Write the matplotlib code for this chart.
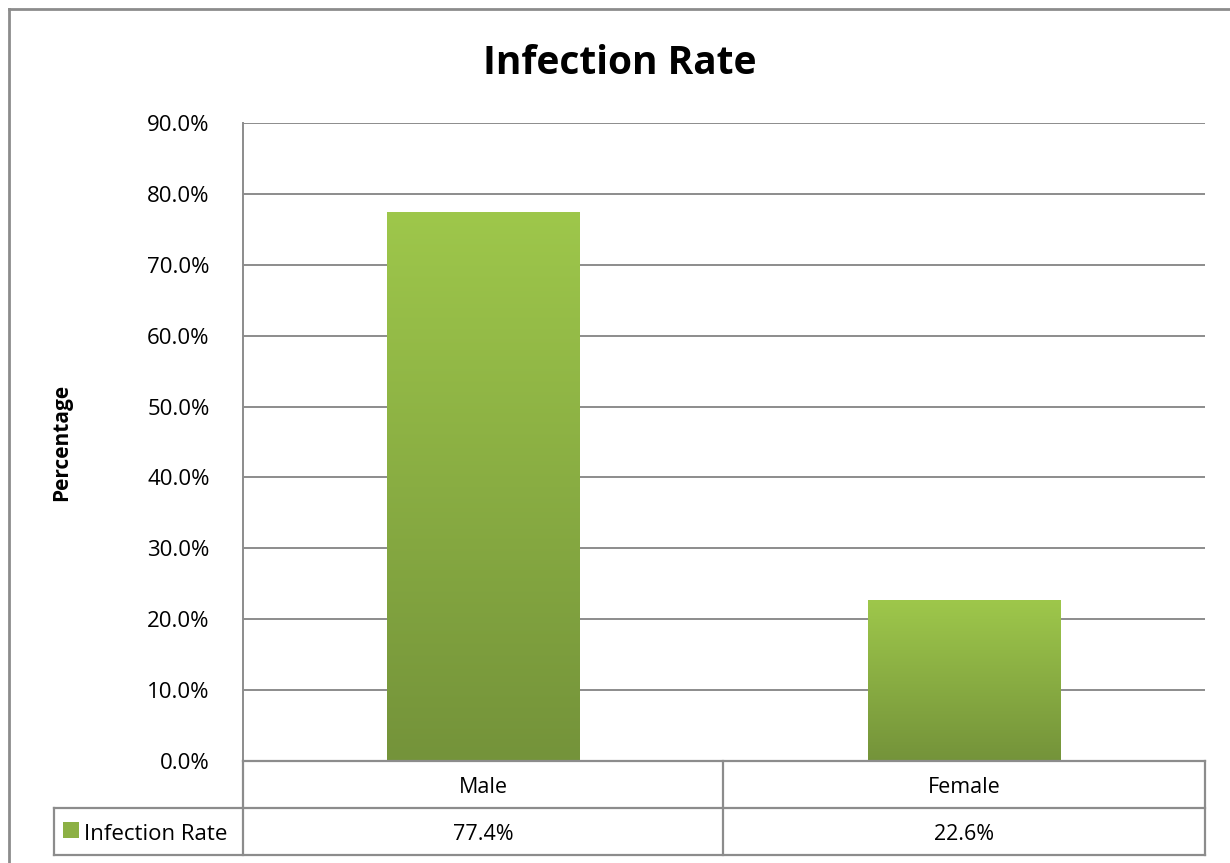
import matplotlib
matplotlib.use('Agg')
import matplotlib.pyplot as plt
import numpy as np
from matplotlib.colors import LinearSegmentedColormap
from matplotlib.lines import Line2D
from matplotlib.patches import Rectangle

plt.rcParams['font.family'] = ['Open Sans', 'DejaVu Sans']

categories = ['Male', 'Female']
rates = [77.4, 22.6]
series_name = 'Infection Rate'
yticks = [0, 10, 20, 30, 40, 50, 60, 70, 80, 90]

W, H = 1230, 863
fig = plt.figure(figsize=(W / 100, H / 100), dpi=100)

# plot area in pixel coords
left, right, top, bottom = 243, 1205, 123, 761
ax = fig.add_axes([left / W, (H - bottom) / H, (right - left) / W, (bottom - top) / H])

grey = '#8c8c8c'
ax.set_xlim(-0.5, len(categories) - 0.5)
ax.set_ylim(0, 90)
ax.set_yticks(yticks)
ax.set_yticklabels([f'{t:.1f}%' for t in yticks], fontsize=16)
ax.set_xticks([])
ax.tick_params(axis='y', length=0, pad=24)
ax.grid(axis='y', color=grey, linewidth=1.4)
ax.set_axisbelow(True)
for s in ['top', 'right', 'bottom']:
    ax.spines[s].set_visible(False)
ax.spines['left'].set_color(grey)
ax.spines['left'].set_linewidth(1.4)

# gradient bars
cmap = LinearSegmentedColormap.from_list('g', ['#74933a', '#9ec74b'])
grad = np.linspace(0, 1, 256).reshape(-1, 1)
bw = 0.4
for i, v in enumerate(rates):
    ax.imshow(grad, cmap=cmap, origin='lower', aspect='auto',
              extent=(i - bw / 2, i + bw / 2, 0, v), zorder=3)
ax.set_xlim(-0.5, len(categories) - 0.5)
ax.set_ylim(0, 90)

def fy(y):
    return 1 - y / H
def fx(x):
    return x / W

fig.text(fx(620), fy(63), 'Infection Rate', fontsize=28, fontweight='bold',
         ha='center', va='center')
fig.text(fx(62), fy(442), 'Percentage', rotation=90, fontsize=15,
         fontweight='bold', ha='center', va='center')

# data table below the plot
rh = 47
rows = [bottom, bottom + rh, bottom + 2 * rh]
lw = 1.6
lines = [
    ((left, right), (rows[0], rows[0])),
    ((54, right), (rows[1], rows[1])),
    ((54, right), (rows[2], rows[2])),
    ((left, left), (rows[0], rows[2])),
    ((54, 54), (rows[1], rows[2])),
    ((right, right), (rows[0], rows[2])),
    ((723, 723), (rows[0], rows[2])),
]
for xs, ys in lines:
    fig.add_artist(Line2D([fx(x) for x in xs], [fy(y) for y in ys], color=grey, linewidth=lw))

col_edges = [left, 723, right]
for i, (c, v) in enumerate(zip(categories, rates)):
    cx = (col_edges[i] + col_edges[i + 1]) / 2
    fig.text(fx(cx), fy(rows[0] + rh / 2 + 3), c, fontsize=15.5, ha='center', va='center')
    fig.text(fx(cx), fy(rows[1] + rh / 2 + 3), f'{v:.1f}%', fontsize=15.5, ha='center', va='center')

fig.add_artist(Rectangle((fx(63), fy(838)), 16 / W, 16 / H, facecolor='#8cb044', edgecolor='none'))
fig.text(fx(84), fy(rows[1] + rh / 2 + 3), series_name, fontsize=16, ha='left', va='center')

# outer chart border
fig.add_artist(Line2D([fx(9), fx(9)], [fy(9), 0], color=grey, linewidth=2))
fig.add_artist(Line2D([fx(9), 1], [fy(9), fy(9)], color=grey, linewidth=2))

fig.savefig('out.png', dpi=100)
